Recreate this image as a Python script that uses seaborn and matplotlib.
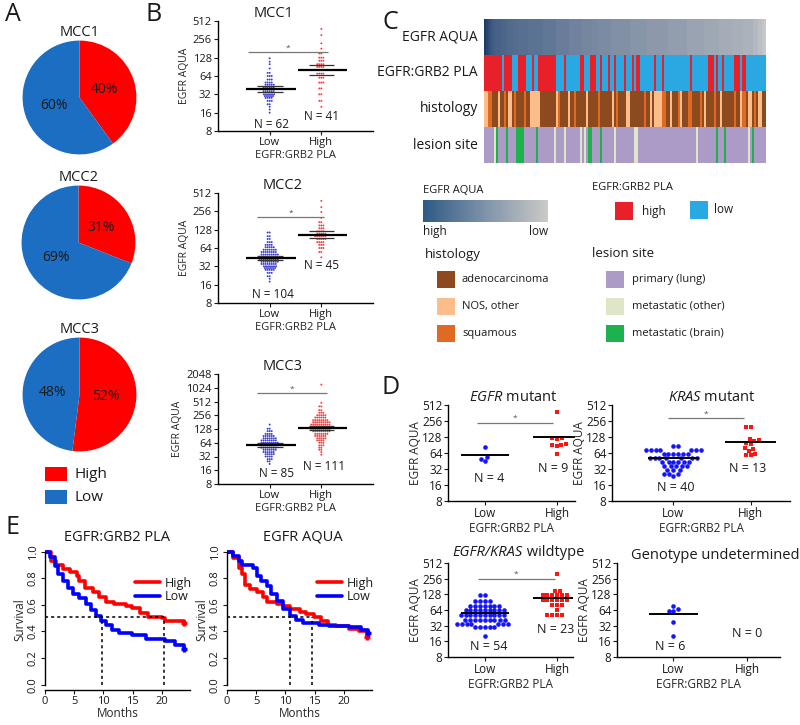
"""EGFR:GRB2 PLA vs EGFR AQUA across cohorts (pies, dot plots, annotation heatmap, survival)."""

import warnings
import numpy as np
import pandas as pd
import matplotlib
matplotlib.use("Agg")
import matplotlib.pyplot as plt
import seaborn as sns
from matplotlib.colors import ListedColormap, LinearSegmentedColormap
from matplotlib.patches import Rectangle

warnings.filterwarnings("ignore")

# ---------------- values ----------------
# A: share of high / low PLA cases per cohort
cohorts = ["MCC1", "MCC2", "MCC3"]
pla_high_pct = [40, 31, 52]
pla_low_pct = [60, 69, 48]

# B: EGFR AQUA, given as value levels and how many cases sit at each level
mcc1_low_vals = [16, 18, 20, 22, 25, 28, 30, 32, 35, 38, 42, 46, 50, 56, 64, 72, 85, 100, 110, 125]
mcc1_low_cnt = [1, 1, 1, 2, 3, 4, 5, 6, 6, 6, 6, 5, 4, 3, 3, 2, 1, 1, 1, 1]
mcc1_high_vals = [20, 25, 32, 40, 50, 60, 70, 80, 90, 100, 114, 128, 150, 180, 220, 300, 380]
mcc1_high_cnt = [1, 2, 2, 2, 3, 3, 4, 4, 4, 4, 3, 3, 2, 1, 1, 1, 1]

mcc2_low_vals = [18, 20, 22, 25, 28, 30, 32, 35, 38, 42, 46, 50, 55, 60, 66, 72, 80, 90, 100, 115]
mcc2_low_cnt = [1, 1, 2, 3, 5, 6, 7, 8, 9, 10, 10, 9, 8, 7, 5, 4, 3, 2, 2, 2]
mcc2_high_vals = [45, 55, 64, 72, 80, 90, 100, 110, 120, 135, 150, 170, 200, 250, 300, 380]
mcc2_high_cnt = [1, 2, 3, 3, 4, 5, 6, 5, 4, 3, 3, 2, 1, 1, 1, 1]

mcc3_low_vals = [22, 25, 28, 32, 36, 40, 45, 50, 56, 64, 72, 80, 90, 100, 115, 130, 160]
mcc3_low_cnt = [1, 2, 3, 4, 5, 6, 7, 8, 9, 9, 8, 7, 6, 4, 3, 2, 1]
mcc3_high_vals = [35, 40, 45, 50, 56, 64, 72, 80, 90, 100, 114, 128, 144, 160, 180, 200, 228, 256, 290, 330, 400, 480, 1200]
mcc3_high_cnt = [1, 1, 2, 2, 3, 3, 4, 5, 6, 7, 9, 10, 11, 10, 9, 8, 6, 5, 3, 2, 2, 1, 1]

# C: per-case annotation tracks (H/L = PLA high/low; A/N/S = adeno/NOS/squamous;
#    P/O/B = primary lung / metastatic other / metastatic brain)
pla_runs = [("H", 9), ("L", 1), ("H", 4), ("L", 3), ("H", 4), ("L", 3), ("H", 1), ("L", 2),
            ("H", 9), ("L", 4), ("H", 1), ("L", 7), ("H", 2), ("L", 3), ("H", 3), ("L", 2),
            ("H", 1), ("L", 3), ("H", 1), ("L", 2), ("H", 1), ("L", 4), ("H", 1), ("L", 3),
            ("H", 1), ("L", 1), ("H", 2), ("L", 7), ("H", 1), ("L", 3), ("H", 1), ("L", 13),
            ("H", 1), ("L", 8), ("H", 3), ("L", 1), ("H", 1), ("L", 2), ("H", 1), ("L", 5),
            ("H", 3), ("L", 1), ("H", 2), ("L", 10)]
histology_track = ("NNSSAAANAA" "SANNASAAAA" "SAANNNNNAA" "AAAAAANSAA" "AANAASAAAA"
                   "ANAAAAASAA" "AAAANASAAA" "ANNAAAAAAA" "SAANANNNNS" "SAANAAASNA"
                   "AASSAAAASA" "NAAAASAANA" "AAAAASAANS" "SANNASANNA" "A")
lesion_track = ("PPPPPOBPPP" "PBPPPPBBBB" "PPPPPPBPPP" "PPPPPOPPPP" "OPPPPPPPOP"
                "OPBBPPPPBP" "PPPPPOPPPP" "PPPPPOOPPP" "PPPPPPPPPP" "PPPPPPPPPP"
                "PPPPPPOPPP" "PPPPPPBPPP" "BPPPPPPPPP" "PPOPBPPPPP" "P")

# D: EGFR AQUA by genotype
egfr_mut_low = [84, 54, 50, 45]
egfr_mut_high = [380, 125, 120, 118, 95, 92, 90, 85, 62]
kras_mut_low_vals = [85, 72, 62, 52, 44, 37, 31, 26, 24]
kras_mut_low_cnt = [2, 7, 6, 7, 6, 5, 3, 3, 1]
kras_mut_high = [200, 195, 118, 112, 108, 100, 95, 80, 75, 70, 62, 58, 58]
wt_low_vals = [122, 96, 78, 63, 51, 41, 34, 30, 20]
wt_low_cnt = [2, 4, 7, 9, 10, 9, 7, 5, 1]
wt_high_vals = [320, 150, 125, 100, 80, 65, 52]
wt_high_cnt = [1, 2, 6, 6, 3, 1, 4]
und_low = [78, 66, 62, 60, 37, 20]
und_high = []

# E: Kaplan-Meier steps (months, survival)
pla_km_high_t = [0, 1.1, 1.8, 3.0, 4.2, 5.4, 5.9, 6.8, 8.2, 9.3, 10.4, 11.8, 13.8, 14.9, 16.3, 17.7, 20.0, 20.6, 23.7]
pla_km_high_s = [1.0, 0.93, 0.90, 0.87, 0.85, 0.82, 0.78, 0.73, 0.70, 0.66, 0.62, 0.61, 0.59, 0.58, 0.54, 0.51, 0.50, 0.48, 0.46]
pla_km_low_t = [0, 0.8, 1.7, 2.3, 3.1, 3.9, 4.8, 5.9, 7.0, 7.9, 8.7, 9.6, 10.4, 11.5, 12.7, 14.9, 17.2, 20.6, 22.3, 23.7]
pla_km_low_s = [1.0, 0.96, 0.89, 0.83, 0.78, 0.73, 0.68, 0.65, 0.61, 0.56, 0.52, 0.48, 0.45, 0.41, 0.39, 0.37, 0.34, 0.33, 0.30, 0.27]
aqua_km_high_t = [0, 1.1, 2.0, 2.5, 3.1, 3.9, 5.1, 6.2, 6.8, 8.5, 9.6, 10.7, 12.4, 13.5, 14.9, 16.0, 17.2, 18.6, 20.8, 22.5, 23.9]
aqua_km_high_s = [1.0, 0.95, 0.88, 0.83, 0.75, 0.72, 0.70, 0.66, 0.62, 0.61, 0.59, 0.57, 0.55, 0.53, 0.51, 0.48, 0.45, 0.44, 0.42, 0.40, 0.36]
aqua_km_low_t = [0, 1.0, 2.0, 2.5, 4.5, 5.1, 5.9, 6.8, 7.6, 8.5, 9.6, 10.7, 11.8, 13.0, 15.8, 17.5, 20.8, 23.0, 24.2]
aqua_km_low_s = [1.0, 0.97, 0.93, 0.90, 0.88, 0.82, 0.78, 0.74, 0.68, 0.63, 0.57, 0.52, 0.49, 0.46, 0.45, 0.44, 0.43, 0.41, 0.39]
pla_medians = [9.8, 20.3]
aqua_medians = [10.8, 14.5]

# ---------------- styling ----------------
sns.set_theme(style="ticks")
plt.rcParams["font.family"] = ["Open Sans", "DejaVu Sans"]
plt.rcParams["mathtext.fontset"] = "custom"
plt.rcParams["mathtext.it"] = "Open Sans:italic"
plt.rcParams["mathtext.rm"] = "Open Sans"
plt.rcParams["axes.edgecolor"] = "black"
plt.rcParams["axes.linewidth"] = 1.0
plt.rcParams["text.color"] = "#1a1a1a"

RED = "#ff0000"
PIE_BLUE = "#1b6ec2"
DOT_BLUE = "#3c3cdc"
DOT_RED = "#ff3b3b"
D_BLUE = "#1414ff"
D_RED = "#ff1414"

fig = plt.figure(figsize=(8, 7.25), dpi=100)


def px(x0, y0, x1, y1):
    return [x0 / 800, 1 - y1 / 725, (x1 - x0) / 800, (y1 - y0) / 725]


def expand(vals, cnt):
    return np.repeat(np.asarray(vals, float), cnt)


def style_axis(ax, fs=8):
    sns.despine(ax=ax)
    ax.tick_params(direction="out", length=3, width=0.8, pad=1.5, labelsize=fs, colors="#1a1a1a")
    ax.minorticks_off()


# ---------------- A: pies ----------------
pie_boxes = [(22, 40), (21, 185), (22, 337)]
for name, hi, lo, (x0, y0) in zip(cohorts, pla_high_pct, pla_low_pct, pie_boxes):
    ax = fig.add_axes(px(x0, y0, x0 + 115, y0 + 115))
    ax.pie([hi, lo], colors=[RED, PIE_BLUE], startangle=90, counterclock=False,
           autopct=lambda p: f"{p:.0f}%", pctdistance=0.47,
           textprops={"fontsize": 10}, wedgeprops={"linewidth": 0})
    ax.set_xlim(-1.01, 1.01)
    ax.set_ylim(-1.01, 1.01)
    ax.set_title(name, fontsize=10.5, pad=1)


# ---------------- B: cohort dot plots ----------------
def dot_panel(ax, low, high, ytop, title, title_x, sig, n_low, n_high, dot_size=1.4):
    df = pd.DataFrame({"PLA": ["Low"] * len(low) + ["High"] * len(high),
                       "AQUA": np.concatenate([low, high])})
    ax.set_yscale("log", base=2)
    sns.swarmplot(data=df, x="PLA", y="AQUA", hue="PLA", order=["Low", "High"],
                  palette={"Low": DOT_BLUE, "High": DOT_RED}, size=dot_size,
                  linewidth=0, legend=False, ax=ax)
    for i, vals in enumerate([low, high]):
        lv = np.log2(vals)
        m = lv.mean()
        ci = 1.96 * lv.std(ddof=1) / np.sqrt(len(lv))
        ax.hlines(2 ** m, i - 0.45, i + 0.5, color="black", lw=1.6, zorder=5)
        ax.hlines([2 ** (m - ci), 2 ** (m + ci)], i - 0.24, i + 0.25, color="#333333", lw=0.9, zorder=5)
    ax.hlines(sig[0], sig[1], sig[2], color="#777777", lw=0.9)
    ax.text((sig[1] + sig[2]) / 2, sig[0] * 1.02, "*", ha="center", va="bottom", fontsize=6, color="#555555")
    ax.text(n_low[0], n_low[1], f"N = {len(low)}", ha="center", va="center", fontsize=8.5)
    ax.text(n_high[0], n_high[1], f"N = {len(high)}", ha="center", va="center", fontsize=8.5)
    ticks = 2 ** np.arange(3, int(np.log2(ytop)) + 1)
    ax.set_ylim(8, ytop)
    ax.set_yticks(ticks)
    ax.set_yticklabels([str(int(t)) for t in ticks])
    ax.set_xlim(-1.0, 2.0)
    ax.set_xticks([0, 1])
    ax.set_xticklabels(["Low", "High"])
    ax.set_xlabel("EGFR:GRB2 PLA", fontsize=8, labelpad=1)
    ax.set_ylabel("EGFR AQUA", fontsize=7.5, labelpad=2)
    ax.set_title(title, fontsize=10.5, x=title_x, pad=1)
    style_axis(ax, 8)


ax = fig.add_axes(px(218, 21, 373, 131))
dot_panel(ax, expand(mcc1_low_vals, mcc1_low_cnt), expand(mcc1_high_vals, mcc1_high_cnt), 512,
          "MCC1", 0.36, (160, -0.42, 1.12), (0.04, 10.3), (1.0, 13.6))
ax = fig.add_axes(px(218, 193, 373, 303))
dot_panel(ax, expand(mcc2_low_vals, mcc2_low_cnt), expand(mcc2_high_vals, mcc2_high_cnt), 512,
          "MCC2", 0.42, (208, -0.25, 1.06), (0.06, 10.9), (1.0, 33))
ax = fig.add_axes(px(218, 374, 373, 484))
dot_panel(ax, expand(mcc3_low_vals, mcc3_low_cnt), expand(mcc3_high_vals, mcc3_high_cnt), 2048,
          "MCC3", 0.42, (787, -0.25, 1.1), (0.13, 13.4), (1.06, 19.4))

# ---------------- C: annotation heatmap ----------------
aqua_cmap = LinearSegmentedColormap.from_list(
    "aqua", [(0, "#c8c9cb"), (0.3, "#8e9aab"), (0.55, "#5d7494"), (1, "#1b3c6a")])
mcc2_all = np.sort(np.concatenate([expand(mcc2_low_vals, mcc2_low_cnt),
                                   expand(mcc2_high_vals, mcc2_high_cnt)]))[::-1]
ax = fig.add_axes(px(484, 19, 766, 55))
sns.heatmap(np.log2(mcc2_all).reshape(1, -1), cmap=aqua_cmap, cbar=False,
            xticklabels=False, yticklabels=False, ax=ax)

pla_track = "".join(c * n for c, n in pla_runs)
codes = {"H": 0, "L": 1, "A": 2, "N": 3, "S": 4, "P": 5, "O": 6, "B": 7}
track_cols = ["#e8202a", "#2aa8e2", "#8c4a1e", "#fbbd8a", "#e06a24", "#ab9bc6", "#dfe6c8", "#1eb24e"]
ncol = min(len(pla_track), len(histology_track), len(lesion_track))
tracks = np.array([[codes[c] for c in t[:ncol]] for t in (pla_track, histology_track, lesion_track)])
ax = fig.add_axes(px(484, 55, 766, 163))
sns.heatmap(tracks, cmap=ListedColormap(track_cols), vmin=-0.5, vmax=7.5, cbar=False,
            xticklabels=False, yticklabels=False, ax=ax)

cax = fig.add_axes(px(423, 200, 548, 222))
cb = fig.colorbar(plt.cm.ScalarMappable(cmap=LinearSegmentedColormap.from_list(
    "leg", ["#2d5a84", "#7f93a9", "#cbcac6"])), cax=cax, orientation="horizontal")
cb.outline.set_visible(False)
cax.set_xticks([])


# ---------------- D: genotype dot plots ----------------
def geno_panel(ax, low, high, title, title_x, xlim, sig, n_low, n_high):
    ax.set_yscale("log", base=2)
    if len(low):
        sns.swarmplot(x=["Low"] * len(low), y=low, order=["Low", "High"], color=D_BLUE,
                      marker="o", size=3.3, linewidth=0, ax=ax)
    if len(high):
        sns.swarmplot(x=["High"] * len(high), y=high, order=["Low", "High"], color=D_RED,
                      marker="s", size=3.3, linewidth=0, ax=ax)
    for i, vals in enumerate([low, high]):
        if len(vals):
            ax.hlines(np.mean(vals), i - 0.33, i + 0.33, color="black", lw=1.4, zorder=5)
    if sig is not None:
        ax.hlines(sig[0], sig[1], sig[2], color="#777777", lw=0.9)
        ax.text((sig[1] + sig[2]) / 2, sig[0] * 1.03, "*", ha="center", va="bottom", fontsize=6, color="#555555")
    ax.text(n_low[0], n_low[1], f"N = {len(low)}", ha="center", va="center", fontsize=9)
    ax.text(n_high[0], n_high[1], f"N = {len(high)}", ha="center", va="center", fontsize=9)
    ticks = 2 ** np.arange(3, 10)
    ax.set_ylim(8, 512)
    ax.set_yticks(ticks)
    ax.set_yticklabels([str(int(t)) for t in ticks])
    ax.set_xlim(*xlim)
    ax.set_xticks([0, 1])
    ax.set_xticklabels(["Low", "High"])
    ax.set_xlabel("EGFR:GRB2 PLA", fontsize=8.5, labelpad=1)
    ax.set_ylabel("EGFR AQUA", fontsize=8.5, labelpad=0)
    if title is not None:
        ax.set_title(title, fontsize=10.5, x=title_x, pad=2)
    style_axis(ax, 8.5)
    ax.tick_params(axis="y", pad=1)


ax = fig.add_axes(px(448, 405, 575, 501))
geno_panel(ax, egfr_mut_low, egfr_mut_high, r"$\it{EGFR}$ mutant", 0.51, (-0.51, 1.25),
           (237, -0.11, 0.94), (0.06, 21), (0.95, 33))
ax = fig.add_axes(px(612, 405, 790, 501))
geno_panel(ax, expand(kras_mut_low_vals, kras_mut_low_cnt), kras_mut_high, r"$\it{KRAS}$ mutant", 0.56,
           (-0.79, 1.51), (286, -0.06, 0.91), (0.03, 14.5), (0.96, 33))
ax = fig.add_axes(px(448, 563, 573, 657))
geno_panel(ax, expand(wt_low_vals, wt_low_cnt), expand(wt_high_vals, wt_high_cnt),
           None, 0.55, (-0.51, 1.22), (256, -0.1, 0.97), (0.06, 12.7), (0.98, 27.5))
# title in two runs so that the whole "EGFR/KRAS" part stays italic with no gap
ax.text(0.60, 1.03, "EGFR/KRAS", transform=ax.transAxes, ha="right", va="bottom",
        fontsize=10.5, fontstyle="italic")
ax.text(0.60, 1.03, " wildtype", transform=ax.transAxes, ha="left", va="bottom", fontsize=10.5)
ax = fig.add_axes(px(617, 563, 780, 657))
geno_panel(ax, und_low, und_high, "Genotype undetermined", 0.6, (-0.76, 1.44), None,
           (-0.04, 12.7), (0.99, 22.6))


# ---------------- E: survival ----------------
def km_panel(ax, hi_t, hi_s, lo_t, lo_s, medians, title, title_x):
    sns.lineplot(x=hi_t, y=hi_s, drawstyle="steps-post", color=RED, lw=2.6, estimator=None,
                 sort=False, label="High", ax=ax)
    sns.lineplot(x=lo_t, y=lo_s, drawstyle="steps-post", color="#0000ff", lw=2.6, estimator=None,
                 sort=False, label="Low", ax=ax)
    ax.plot(hi_t[-1], hi_s[-1], marker="+", ms=5, mew=2.4, color=RED)
    ax.plot(lo_t[-1], lo_s[-1], marker="+", ms=5, mew=2.4, color="#0000ff")
    ax.hlines(0.51, 0, max(medians), color="black", lw=1.1, ls=(0, (2, 2)), zorder=6)
    ax.vlines(medians, 0, 0.51, color="black", lw=1.1, ls=(0, (2, 2)), zorder=6)
    ax.set_xlim(0, 24.8)
    ax.set_ylim(-0.04, 1.02)
    ax.set_xticks([0, 5, 10, 15, 20])
    ax.set_yticks([0, 0.2, 0.4, 0.6, 0.8, 1.0])
    ax.set_yticklabels(["0.0", "0.2", "0.4", "0.6", "0.8", "1.0"], rotation=90, va="center")
    ax.set_xlabel("Months", fontsize=8.5, labelpad=0)
    ax.set_ylabel("Survival", fontsize=8.5, labelpad=1)
    ax.set_title(title, fontsize=10.5, x=title_x, pad=6)
    ax.legend(frameon=False, loc="upper right", bbox_to_anchor=(1.05, 0.84), fontsize=9,
              handlelength=2.0, handletextpad=0.4, labelspacing=0.05, borderaxespad=0)
    style_axis(ax, 8)
    ax.tick_params(axis="x", pad=1)
    ax.spines["left"].set_bounds(0, 1)


ax = fig.add_axes(px(45, 549, 190, 690))
km_panel(ax, pla_km_high_t, pla_km_high_s, pla_km_low_t, pla_km_low_s, pla_medians, "EGFR:GRB2 PLA", 0.5)
ax = fig.add_axes(px(227, 549, 372, 690))
km_panel(ax, aqua_km_high_t, aqua_km_high_s, aqua_km_low_t, aqua_km_low_s, aqua_medians, "EGFR AQUA", 0.52)

# ---------------- overlay: letters, row labels, legends ----------------
ov = fig.add_axes([0, 0, 1, 1])
ov.set_xlim(0, 800)
ov.set_ylim(725, 0)
ov.axis("off")

for letter, (lx, ly) in zip("ABCDE", [(5, 14), (146, 14), (382, 22), (381, 387), (5, 527)]):
    ov.text(lx, ly, letter, fontsize=18, va="center", ha="left")

for label, ly in zip(["EGFR AQUA", "EGFR:GRB2 PLA", "histology", "lesion site"], [37, 72, 108, 145]):
    ov.text(478, ly, label, fontsize=10, ha="right", va="center")

# pie legend
for lab, col, ly in [("High", RED, 474), ("Low", PIE_BLUE, 497)]:
    ov.add_patch(Rectangle((45, ly - 7), 22, 14, color=col, lw=0))
    ov.text(74, ly, lab, fontsize=11, va="center")

# heatmap legend
ov.text(423, 190, "EGFR AQUA", fontsize=8, va="center")
ov.text(423, 231, "high", fontsize=8.5, va="center")
ov.text(548, 231, "low", fontsize=8.5, va="center", ha="right")
ov.text(592, 187, "EGFR:GRB2 PLA", fontsize=8, va="center")
ov.add_patch(Rectangle((615, 202), 18, 18, color=track_cols[0], lw=0))
ov.text(642, 211, "high", fontsize=8.5, va="center")
ov.add_patch(Rectangle((690, 201), 18, 18, color=track_cols[1], lw=0))
ov.text(714, 209, "low", fontsize=8.5, va="center")
ov.text(425, 254, "histology", fontsize=9.5, va="center")
ov.text(592, 253, "lesion site", fontsize=9.5, va="center")
for lab, col, ly in zip(["adenocarcinoma", "NOS, other", "squamous"], track_cols[2:5], [279, 306, 333]):
    ov.add_patch(Rectangle((437, ly - 8), 18, 17, color=col, lw=0))
    ov.text(462, ly, lab, fontsize=8, va="center")
for lab, col, ly in zip(["primary (lung)", "metastatic (other)", "metastatic (brain)"], track_cols[5:8], [279, 306, 333]):
    ov.add_patch(Rectangle((606, ly - 8), 18, 17, color=col, lw=0))
    ov.text(632, ly, lab, fontsize=8, va="center")

fig.savefig("out.png", dpi=100)
